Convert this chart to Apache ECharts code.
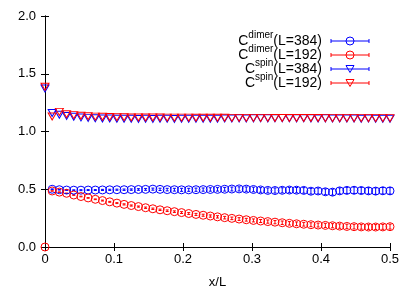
<!DOCTYPE html>
<html>
<head>
<meta charset="utf-8">
<script src="https://cdn.jsdelivr.net/npm/echarts@6.0.0/dist/echarts.min.js"></script>
<style>
  html, body { margin: 0; padding: 0; background: #fff; }
  #chart { width: 415px; height: 291px; }
</style>
</head>
<body>
<div id="chart"></div>
<script>
// x/L positions (every 4 sites for L=384, every 2 sites for L=192)
var xs = [0, 0.0104, 0.0208, 0.0313, 0.0417, 0.0521, 0.0625, 0.0729, 0.0833, 0.0938,
  0.1042, 0.1146, 0.125, 0.1354, 0.1458, 0.1563, 0.1667, 0.1771, 0.1875, 0.1979,
  0.2083, 0.2188, 0.2292, 0.2396, 0.25, 0.2604, 0.2708, 0.2813, 0.2917, 0.3021,
  0.3125, 0.3229, 0.3333, 0.3438, 0.3542, 0.3646, 0.375, 0.3854, 0.3958, 0.4063,
  0.4167, 0.4271, 0.4375, 0.4479, 0.4583, 0.4688, 0.4792, 0.4896, 0.5];

var dimer384 = [null, 0.500, 0.496, 0.493, 0.492, 0.492, 0.493, 0.493, 0.494, 0.495,
  0.496, 0.496, 0.497, 0.498, 0.499, 0.501, 0.499, 0.497, 0.496, 0.495,
  0.495, 0.496, 0.497, 0.498, 0.499, 0.500, 0.502, 0.503, 0.501, 0.498,
  0.494, 0.490, 0.489, 0.491, 0.493, 0.492, 0.490, 0.483, 0.485, 0.478,
  0.475, 0.486, 0.490, 0.491, 0.489, 0.486, 0.484, 0.487, 0.486];
var dimer384Err = [0, 0.003, 0.003, 0.003, 0.003, 0.004, 0.004, 0.004, 0.005, 0.005,
  0.005, 0.006, 0.006, 0.007, 0.008, 0.009, 0.010, 0.011, 0.012, 0.013,
  0.013, 0.014, 0.014, 0.015, 0.015, 0.016, 0.017, 0.018, 0.019, 0.020,
  0.020, 0.021, 0.022, 0.022, 0.023, 0.023, 0.024, 0.024, 0.025, 0.025,
  0.026, 0.026, 0.026, 0.027, 0.027, 0.027, 0.028, 0.028, 0.028];

var dimer192 = [0.0, 0.485, 0.475, 0.465, 0.450, 0.437, 0.425, 0.413, 0.402, 0.391,
  0.380, 0.369, 0.359, 0.350, 0.340, 0.331, 0.322, 0.314, 0.306, 0.298,
  0.290, 0.282, 0.275, 0.268, 0.261, 0.254, 0.248, 0.242, 0.236, 0.230,
  0.225, 0.220, 0.215, 0.210, 0.205, 0.201, 0.197, 0.193, 0.190, 0.187,
  0.184, 0.181, 0.178, 0.176, 0.174, 0.173, 0.173, 0.174, 0.176];
var dimer192Err = [0, 0.002, 0.002, 0.002, 0.003, 0.003, 0.003, 0.003, 0.004, 0.004,
  0.004, 0.005, 0.005, 0.005, 0.006, 0.006, 0.006, 0.007, 0.007, 0.008,
  0.008, 0.009, 0.009, 0.010, 0.010, 0.011, 0.011, 0.012, 0.012, 0.013,
  0.013, 0.014, 0.014, 0.015, 0.015, 0.016, 0.016, 0.017, 0.017, 0.018,
  0.018, 0.019, 0.019, 0.020, 0.020, 0.020, 0.021, 0.021, 0.021];

var spin384 = [1.372, 1.160, 1.145, 1.135, 1.128, 1.122, 1.118, 1.115, 1.113, 1.112,
  1.111, 1.110, 1.110, 1.109, 1.110, 1.109, 1.110, 1.110, 1.109, 1.110,
  1.111, 1.110, 1.111, 1.110, 1.111, 1.112, 1.113, 1.114, 1.113, 1.114,
  1.115, 1.114, 1.115, 1.116, 1.115, 1.114, 1.115, 1.114, 1.113, 1.114,
  1.113, 1.112, 1.113, 1.112, 1.111, 1.112, 1.111, 1.110, 1.111];

var spin192 = [1.387, 1.130, 1.170, 1.150, 1.142, 1.136, 1.132, 1.129, 1.127, 1.125,
  1.124, 1.123, 1.122, 1.122, 1.121, 1.121, 1.121, 1.120, 1.120, 1.120,
  1.120, 1.119, 1.119, 1.119, 1.119, 1.119, 1.118, 1.118, 1.118, 1.118,
  1.118, 1.118, 1.117, 1.117, 1.117, 1.117, 1.117, 1.117, 1.117, 1.116,
  1.116, 1.116, 1.116, 1.116, 1.116, 1.116, 1.116, 1.116, 1.116];

var xTicks = [0, 0.1, 0.2, 0.3, 0.4, 0.5];
var yTicks = [0, 0.5, 1.0, 1.5, 2.0];

var BLUE = '#0000ff';
var RED = '#ff0000';
var FONT = '"Liberation Sans", Arial, sans-serif';

// pair x with y, skipping missing points
function points(ys) {
  var out = [];
  ys.forEach(function (y, i) { if (y !== null) out.push([xs[i], y]); });
  return out;
}

function errData(ys, es) {
  var out = [];
  ys.forEach(function (y, i) { if (y !== null && es[i] > 0) out.push([xs[i], y - es[i], y + es[i]]); });
  return out;
}

function errSeries(ys, es, color) {
  return {
    type: 'custom',
    data: errData(ys, es),
    encode: { x: 0, y: [1, 2] },
    silent: true,
    renderItem: function (params, api) {
      var lo = api.coord([api.value(0), api.value(1)]);
      var hi = api.coord([api.value(0), api.value(2)]);
      var st = { stroke: color, lineWidth: 1 };
      return {
        type: 'group',
        children: [
          { type: 'line', shape: { x1: lo[0], y1: lo[1], x2: hi[0], y2: hi[1] }, style: st },
          { type: 'line', shape: { x1: lo[0] - 1.5, y1: lo[1], x2: lo[0] + 1.5, y2: lo[1] }, style: st },
          { type: 'line', shape: { x1: hi[0] - 1.5, y1: hi[1], x2: hi[0] + 1.5, y2: hi[1] }, style: st }
        ]
      };
    }
  };
}

function markerSeries(name, ys, color, tri) {
  return {
    name: name,
    type: 'scatter',
    data: points(ys),
    symbol: tri ? 'triangle' : 'circle',
    symbolRotate: tri ? 180 : 0,
    symbolSize: tri ? [8, 7] : 8,
    itemStyle: { color: 'transparent', borderColor: color, borderWidth: 1, opacity: 1 },
    emphasis: { disabled: true }
  };
}

// text width helper for placing the superscripts in the legend
var measureCtx = document.createElement('canvas').getContext('2d');
function textWidth(str, size) {
  measureCtx.font = size + 'px ' + FONT;
  return measureCtx.measureText(str).width;
}

// legend drawn by hand: label on the left, error-bar line with marker on the right
var legendRows = [
  { sup: 'dimer', L: '384', color: BLUE, tri: false },
  { sup: 'dimer', L: '192', color: RED, tri: false },
  { sup: 'spin', L: '384', color: BLUE, tri: true },
  { sup: 'spin', L: '192', color: RED, tri: true }
];
var MAIN = 14, SUP = 10;
var legendGraphics = [];
legendRows.forEach(function (r, i) {
  var y = 41 + i * 14;
  var right = 322;
  var tail = '(L=' + r.L + ')';
  var supRight = right - textWidth(tail, MAIN);
  var cRight = supRight - textWidth(r.sup, SUP);
  var st = { stroke: r.color, lineWidth: 1, fill: 'none' };
  var txt = function (s, x, yy, size) {
    return {
      type: 'text',
      style: { text: s, x: x, y: yy, align: 'right', verticalAlign: 'middle',
        fontSize: size, fontFamily: FONT, fill: '#000' }
    };
  };
  legendGraphics.push(txt(tail, right, y + 0.5, MAIN));
  legendGraphics.push(txt(r.sup, supRight, y - 5.5, SUP));
  legendGraphics.push(txt('C', cRight, y + 0.5, MAIN));
  legendGraphics.push({ type: 'line', shape: { x1: 331, y1: y, x2: 369, y2: y }, style: st });
  legendGraphics.push({ type: 'line', shape: { x1: 331, y1: y - 2, x2: 331, y2: y + 2 }, style: st });
  legendGraphics.push({ type: 'line', shape: { x1: 369, y1: y - 2, x2: 369, y2: y + 2 }, style: st });
  if (r.tri) {
    legendGraphics.push({ type: 'polygon', shape: { points: [[346, y - 3.5], [354, y - 3.5], [350, y + 3.5]] }, style: st });
  } else {
    legendGraphics.push({ type: 'circle', shape: { cx: 350, cy: y, r: 4 }, style: st });
  }
});

function fmt(v) { return v === 0 ? '0' : v.toFixed(1); }

var frameAxis = {
  axisLine: { show: true, lineStyle: { color: '#000', width: 1 } },
  axisTick: { show: true, inside: true, length: 4, lineStyle: { color: '#000' } },
  splitLine: { show: false }
};

var chart = echarts.init(document.getElementById('chart'), null, { renderer: 'canvas' });
chart.setOption({
  animation: false,
  backgroundColor: '#fff',
  grid: { left: 45, top: 16, width: 345, height: 231, outerBoundsMode: 'none', containLabel: false },
  xAxis: [
    Object.assign({
      type: 'value', min: xTicks[0], max: xTicks[xTicks.length - 1], interval: 0.1,
      position: 'bottom',
      name: 'x/L', nameLocation: 'middle', nameGap: 29,
      nameTextStyle: { color: '#000', fontSize: 13, fontFamily: FONT },
      axisLabel: { color: '#000', fontSize: 13, fontFamily: FONT, margin: 6, formatter: fmt }
    }, frameAxis),
    Object.assign({
      type: 'value', min: xTicks[0], max: xTicks[xTicks.length - 1], interval: 0.1,
      position: 'top', axisLabel: { show: false }
    }, frameAxis)
  ],
  yAxis: [
    Object.assign({
      type: 'value', min: yTicks[0], max: yTicks[yTicks.length - 1], interval: 0.5,
      position: 'left',
      axisLabel: { color: '#000', fontSize: 13, fontFamily: FONT, margin: 9, formatter: function (v) { return v.toFixed(1); } }
    }, frameAxis),
    Object.assign({
      type: 'value', min: yTicks[0], max: yTicks[yTicks.length - 1], interval: 0.5,
      position: 'right', axisLabel: { show: false }
    }, frameAxis)
  ],
  series: [
    errSeries(dimer384, dimer384Err, BLUE),
    markerSeries('C^dimer(L=384)', dimer384, BLUE, false),
    errSeries(dimer192, dimer192Err, RED),
    markerSeries('C^dimer(L=192)', dimer192, RED, false),
    markerSeries('C^spin(L=384)', spin384, BLUE, true),
    markerSeries('C^spin(L=192)', spin192, RED, true)
  ],
  graphic: legendGraphics
});
</script>
</body>
</html>
